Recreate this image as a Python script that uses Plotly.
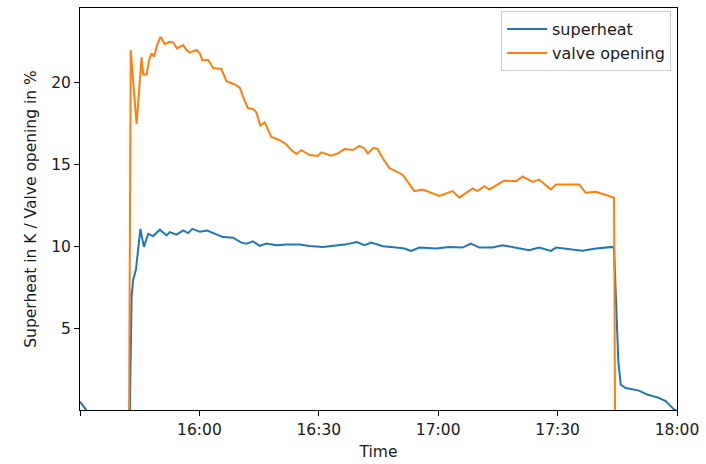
import plotly.graph_objects as go

DAY = "2020-06-15 "

# Superheat (K), sampled along the run
superheat_time = [
    "15:30:00", "15:30:53", "15:31:45", "15:42:32", "15:42:58", "15:43:22", "15:44:03",
    "15:45:10", "15:46:03", "15:47:08", "15:48:23", "15:50:04", "15:51:45", "15:52:34",
    "15:54:15", "15:55:55", "15:57:10", "15:58:13", "16:00:06", "16:01:56", "16:03:52",
    "16:05:56", "16:08:27", "16:10:33", "16:11:49", "16:13:28", "16:15:09", "16:16:50",
    "16:19:20", "16:21:51", "16:25:11", "16:27:41", "16:31:01", "16:34:23", "16:36:28",
    "16:39:33", "16:41:29", "16:43:10", "16:46:04", "16:49:26", "16:51:31", "16:53:11",
    "16:55:17", "16:59:28", "17:02:48", "17:06:08", "17:08:14", "17:10:20", "17:13:40",
    "17:16:10", "17:19:32", "17:22:52", "17:25:22", "17:28:19", "17:29:34", "17:32:54",
    "17:36:14", "17:39:36", "17:42:06", "17:43:46", "17:44:11", "17:44:46", "17:45:16",
    "17:45:52", "17:47:07", "17:50:27", "17:52:32", "17:55:28", "17:57:09", "17:59:14",
    "18:00:00",
]
superheat = [
    0.58, 0.3, 0.0, 0.0, 7.0, 8.0, 8.6,
    11.1, 10.0, 10.8, 10.66, 11.05, 10.7, 10.9,
    10.75, 11.0, 10.84, 11.1, 10.92, 11.0, 10.8,
    10.6, 10.56, 10.26, 10.2, 10.34, 10.06, 10.2,
    10.1, 10.14, 10.14, 10.06, 10.0, 10.06, 10.14,
    10.3, 10.1, 10.26, 10.04, 9.96, 9.9, 9.76,
    9.96, 9.9, 10.0, 9.96, 10.2, 9.96, 9.96,
    10.1, 9.96, 9.8, 9.96, 9.76, 9.96, 9.84,
    9.76, 9.9, 9.96, 10.0, 9.9, 5.8, 3.0,
    1.6, 1.4, 1.24, 1.0, 0.8, 0.6, 0.1,
    0.0,
]

# Valve opening (%), sampled along the run
valve_time = [
    "15:30:00", "15:42:20", "15:42:45", "15:44:13", "15:45:29", "15:45:53", "15:46:44",
    "15:47:23", "15:47:59", "15:48:38", "15:49:23", "15:50:14", "15:51:19", "15:52:34",
    "15:53:24", "15:54:24", "15:55:55", "15:56:46", "15:57:35", "15:59:16", "16:00:06",
    "16:00:46", "16:02:11", "16:03:26", "16:05:32", "16:06:48", "16:08:53", "16:10:08",
    "16:11:23", "16:12:13", "16:13:28", "16:14:19", "16:15:19", "16:16:24", "16:18:05",
    "16:20:10", "16:21:51", "16:23:06", "16:24:21", "16:25:36", "16:27:41", "16:29:46",
    "16:30:37", "16:33:08", "16:34:47", "16:36:28", "16:38:33", "16:40:14", "16:41:29",
    "16:42:19", "16:43:44", "16:44:49", "16:46:04", "16:47:45", "16:51:05", "16:52:20",
    "16:54:01", "16:56:06", "17:00:17", "17:03:38", "17:05:18", "17:08:39", "17:09:54",
    "17:11:35", "17:12:50", "17:16:36", "17:19:32", "17:21:11", "17:23:42", "17:25:22",
    "17:28:19", "17:29:34", "17:35:25", "17:37:05", "17:39:36", "17:42:56", "17:44:11",
    "17:44:26", "18:00:00",
]
valve_opening = [
    0.0, 0.0, 22.0, 17.5, 21.56, 20.5, 20.5,
    21.4, 21.8, 21.6, 22.3, 22.8, 22.36, 22.5,
    22.46, 22.1, 22.3, 22.0, 21.84, 22.0, 21.8,
    21.36, 21.4, 20.9, 20.84, 20.1, 19.9, 19.7,
    18.9, 18.46, 18.4, 18.2, 17.4, 17.6, 16.7,
    16.5, 16.24, 15.9, 15.66, 15.9, 15.6, 15.54,
    15.76, 15.56, 15.7, 15.96, 15.9, 16.16, 16.0,
    15.7, 16.04, 15.96, 15.4, 14.8, 14.4, 14.0,
    13.4, 13.5, 13.1, 13.4, 13.0, 13.56, 13.4,
    13.7, 13.5, 14.04, 14.0, 14.3, 13.96, 14.1,
    13.5, 13.8, 13.8, 13.3, 13.36, 13.1, 13.0,
    0.0, 0.0,
]

x_ticks = ["15:30", "16:00", "16:30", "17:00", "17:30", "18:00"]
x_tick_text = ["", "16:00", "16:30", "17:00", "17:30", "18:00"]
y_ticks = [5, 10, 15, 20]

FONT = "DejaVu Sans"
TEXT = "#1a1a1a"
SIZE = 15.5

fig = go.Figure()
fig.add_trace(go.Scatter(
    x=[DAY + t for t in superheat_time], y=superheat,
    mode="lines", name="superheat",
    line=dict(color="#1f77b4", width=2),
))
fig.add_trace(go.Scatter(
    x=[DAY + t for t in valve_time], y=valve_opening,
    mode="lines", name="valve opening",
    line=dict(color="#ff7f0e", width=2),
))

fig.update_layout(
    width=706, height=464,
    margin=dict(l=80, r=28, t=7, b=48),
    paper_bgcolor="white", plot_bgcolor="white",
    font=dict(family=FONT, size=SIZE, color=TEXT),
    showlegend=True,
    legend=dict(
        x=0.99, y=0.992, xanchor="right", yanchor="top",
        bgcolor="rgba(255,255,255,0.8)", bordercolor="#cccccc", borderwidth=1,
        font=dict(family=FONT, size=16, color=TEXT),
        itemwidth=40,
    ),
)
fig.update_xaxes(
    type="date",
    range=[DAY + "15:30", DAY + "18:00"],
    tickmode="array",
    tickvals=[DAY + t for t in x_ticks],
    ticktext=x_tick_text,
    ticks="outside", ticklen=5, tickwidth=1, tickcolor="black",
    showline=True, linecolor="black", linewidth=1, mirror=True,
    showgrid=False, zeroline=False,
    title=dict(text="Time", standoff=8, font=dict(family=FONT, size=SIZE, color=TEXT)),
)
fig.update_yaxes(
    range=[0.06, 24.56],
    tickmode="array", tickvals=y_ticks,
    ticks="outside", ticklen=5, tickwidth=1, tickcolor="black",
    showline=True, linecolor="black", linewidth=1, mirror=True,
    showgrid=False, zeroline=False,
    title=dict(text="Superheat in K / Valve opening in %", standoff=10,
               font=dict(family=FONT, size=SIZE, color=TEXT)),
)

fig.write_html("out.html")
